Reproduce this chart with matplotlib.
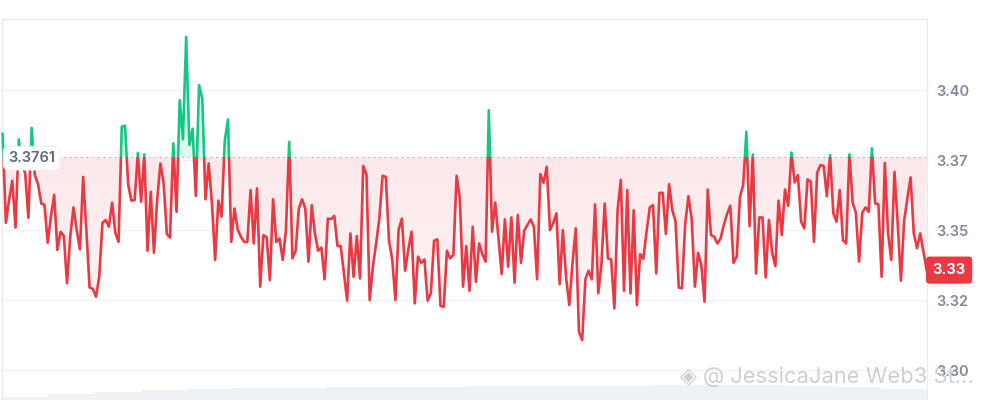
import matplotlib.pyplot as plt
import numpy as np
from matplotlib.patches import Rectangle, PathPatch
from matplotlib.path import Path
from matplotlib.colors import LinearSegmentedColormap
import matplotlib.transforms as mtransforms

plt.rcParams['font.family'] = ['Inter', 'DejaVu Sans']

# price series, left to right
price = [
    3.3843, 3.3526, 3.3607, 3.3676, 3.3509, 3.3824, 3.3738, 3.3702, 3.3544, 3.3865,
    3.3696, 3.3664, 3.3595, 3.3590, 3.3455, 3.3548, 3.3626, 3.3429, 3.3494, 3.3479,
    3.3310, 3.3476, 3.3581, 3.3500, 3.3431, 3.3690, 3.3500, 3.3295, 3.3290, 3.3262,
    3.3333, 3.3526, 3.3536, 3.3512, 3.3598, 3.3490, 3.3458,
    3.3869, 3.3873, 3.3661, 3.3605, 3.3607, 3.3776, 3.3601, 3.3771, 3.3426, 3.3637,
    3.3419, 3.3607, 3.3738, 3.3667, 3.3486, 3.3473, 3.3810, 3.3565, 3.3964, 3.3824,
    3.4190, 3.3804, 3.3862, 3.3622, 3.4018, 3.3970, 3.3610, 3.3738, 3.3595, 3.3393,
    3.3605, 3.3548, 3.3821, 3.3895, 3.3458,
    3.3577, 3.3502, 3.3476, 3.3458, 3.3457, 3.3643, 3.3452, 3.3649, 3.3298, 3.3482,
    3.3474, 3.3321, 3.3610, 3.3457, 3.3470, 3.3393, 3.3500, 3.3815, 3.3399, 3.3426,
    3.3577, 3.3610, 3.3577, 3.3387, 3.3589, 3.3486, 3.3426, 3.3437, 3.3324, 3.3541,
    3.3539, 3.3551, 3.3443, 3.3443, 3.3345, 3.3248,
    3.3488, 3.3333, 3.3479, 3.3327, 3.3729, 3.3700, 3.3250, 3.3369, 3.3452, 3.3541,
    3.3694, 3.3690, 3.3462, 3.3395, 3.3250, 3.3502, 3.3541, 3.3355, 3.3429, 3.3494,
    3.3238, 3.3405, 3.3383, 3.3395, 3.3248, 3.3274, 3.3462, 3.3467, 3.3229, 3.3226,
    3.3426, 3.3399, 3.3411, 3.3694, 3.3613, 3.3298,
    3.3443, 3.3283, 3.3512, 3.3315, 3.3452, 3.3414, 3.3387, 3.3928, 3.3494, 3.3598,
    3.3470, 3.3343, 3.3538, 3.3369, 3.3545, 3.3312, 3.3554, 3.3383, 3.3498, 3.3518,
    3.3538, 3.3512, 3.3324, 3.3700, 3.3669, 3.3726, 3.3500, 3.3524, 3.3560, 3.3307,
    3.3500, 3.3331, 3.3232, 3.3381, 3.3506, 3.3137,
    3.3107, 3.3324, 3.3355, 3.3324, 3.3592, 3.3274, 3.3381, 3.3595, 3.3399, 3.3395,
    3.3220, 3.3571, 3.3679, 3.3283, 3.3643, 3.3274, 3.3571, 3.3232, 3.3414, 3.3397,
    3.3494, 3.3581, 3.3589, 3.3345, 3.3633, 3.3633, 3.3486, 3.3664, 3.3571, 3.3530,
    3.3295, 3.3292, 3.3521, 3.3621, 3.3541, 3.3298,
    3.3419, 3.3375, 3.3244, 3.3645, 3.3482, 3.3476, 3.3452, 3.3470, 3.3518, 3.3557,
    3.3587, 3.3383, 3.3405, 3.3617, 3.3661, 3.3851, 3.3514, 3.3770, 3.3345, 3.3545,
    3.3545, 3.3331, 3.3536, 3.3419, 3.3371, 3.3605, 3.3482, 3.3645, 3.3586, 3.3777,
    3.3670, 3.3696, 3.3530, 3.3506, 3.3681, 3.3673,
    3.3458, 3.3705, 3.3732, 3.3729, 3.3621, 3.3768, 3.3560, 3.3530, 3.3643, 3.3464,
    3.3452, 3.3771, 3.3598, 3.3562, 3.3387, 3.3562, 3.3581, 3.3565, 3.3792, 3.3595,
    3.3592, 3.3333, 3.3740, 3.3490, 3.3393, 3.3708, 3.3524, 3.3319, 3.3533, 3.3613,
    3.3688, 3.3488, 3.3435, 3.3488, 3.3423, 3.3357,
]
base = 3.3761
base_label = "3.3761"
last_label = "3.33"
tick_vals = [3.40, 3.375, 3.35, 3.325, 3.30]
tick_txt = ["3.40", "3.37", "3.35", "3.32", "3.30"]
volume = [3, 6, 8, 10, 11, 12, 12, 13, 13, 13, 14, 14, 14, 14, 15, 15, 15, 14, 13, 11]

RED = '#ea3943'
GREEN = '#16c784'
GRID = '#eff1f4'

x = np.arange(len(price))
y = np.array(price)
ymin, ymax = 3.2893, 3.4254

fig = plt.figure(figsize=(9.91, 4.0), dpi=100)
rect = [2 / 991, 0, 925 / 991, 381 / 400]

# faint volume bars at the bottom
vax = fig.add_axes([2 / 991, 0, 925 / 991, 20 / 400], zorder=0)
vax.bar(np.arange(len(volume)), volume, width=1.0, color='#eff2f5', lw=0)
vax.set_xlim(-0.5, len(volume) - 0.5)
vax.set_ylim(0, 20)
vax.axis('off')

ax = fig.add_axes(rect, zorder=1)
ax.patch.set_alpha(0)
ax.set_xlim(-0.2, len(price) - 0.9)
ax.set_ylim(ymin, ymax)

for t in tick_vals:
    ax.axhline(t, color=GRID, lw=1, zorder=0)

# fills
ax.fill_between(x, y, base, where=y >= base, interpolate=True,
                color=GREEN, alpha=0.13, lw=0, zorder=1)
red_fill = ax.fill_between(x, y, base, where=y <= base, interpolate=True,
                           facecolor='none', lw=0)
grad = np.linspace(0, 1, 256).reshape(-1, 1)
cmap = LinearSegmentedColormap.from_list('pinkfade', ['#fdf5f6', '#fce8ea'])
im = ax.imshow(grad, extent=[x[0], x[-1], 3.315, base], origin='lower',
               aspect='auto', cmap=cmap, zorder=1, interpolation='bilinear')
cpath = Path.make_compound_path(*red_fill.get_paths())
cpatch = PathPatch(cpath, transform=ax.transData, facecolor='none', edgecolor='none')
ax.add_patch(cpatch)
im.set_clip_path(cpatch)

# line: red below baseline, green above
ln_r, = ax.plot(x, y, color=RED, lw=1.9, zorder=3)
ln_g, = ax.plot(x, y, color=GREEN, lw=1.9, zorder=3)
clip_lo = Rectangle((-5, ymin - 1), len(price) + 10, base - ymin + 1,
                    transform=ax.transData)
clip_hi = Rectangle((-5, base), len(price) + 10, 1, transform=ax.transData)
ln_r.set_clip_path(clip_lo)
ln_g.set_clip_path(clip_hi)

ax.axhline(base, color='#a6acb5', lw=0.9, ls=(0, (1, 3.5)), zorder=2)

# axis styling
ax.set_xticks([])
ax.yaxis.tick_right()
ax.set_yticks(tick_vals)
ax.set_yticklabels(tick_txt)
ax.tick_params(axis='y', length=0, pad=7, labelsize=10.5, labelcolor='#7f889b')
for lab in ax.get_yticklabels():
    lab.set_fontweight('semibold')
for side in ['top', 'left', 'right']:
    ax.spines[side].set_color('#e9ebee')
    ax.spines[side].set_linewidth(1)
ax.spines['bottom'].set_visible(False)

# baseline label box
ax.text(1.7, base - 0.0004, base_label, ha='left', va='center', fontsize=10.5,
        color='#58667e', fontweight='semibold', zorder=5,
        bbox=dict(boxstyle='round,pad=0.33,rounding_size=0.4', fc='white',
                  ec='#f0f1f3', lw=0.8))

# last price label
trans = mtransforms.blended_transform_factory(ax.transAxes, ax.transData)
ax.text(1.006, price[-1], last_label, transform=trans, ha='left', va='center',
        fontsize=10.5, color='white', fontweight='bold', zorder=6, clip_on=False,
        bbox=dict(boxstyle='round,pad=0.45,rounding_size=0.25', fc=RED, ec='none'))

# watermark
fig.text(0.686, 0.058, "\u25c8 @ JessicaJane Web3 St...", fontsize=15.8,
         color='#c3c8cf', alpha=0.85, ha='left', va='center', zorder=10)

fig.savefig('out.png', dpi=100)
